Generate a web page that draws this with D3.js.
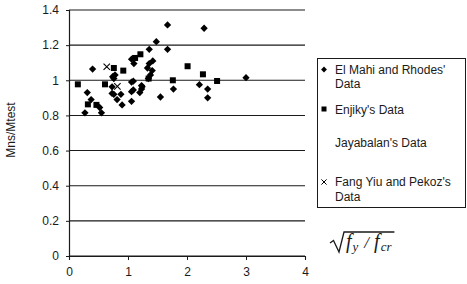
<!DOCTYPE html>
<html><head><meta charset="utf-8">
<script src="https://cdn.jsdelivr.net/npm/d3@7"></script>
<style>
html,body{margin:0;padding:0;background:#fff;}
svg{display:block;font-family:"Liberation Sans",Arial,sans-serif;}
</style></head>
<body>
<svg id="c" width="467" height="284"></svg>
<script>
// ---- data ----
const xTicks = [0, 1, 2, 3, 4];
const yTicks = [0, 0.2, 0.4, 0.6, 0.8, 1.0, 1.2, 1.4];
const yTickLabels = ["0", "0.2", "0.4", "0.6", "0.8", "1", "1.2", "1.4"];

const elMahiX = [0.40,0.31,0.375,0.52,0.55,0.27,0.73,0.76,0.74,0.78,0.76,0.815,0.88,0.90,1.06,1.06,1.09,1.06,1.23,1.23,1.20,1.345,1.38,1.41,1.33,1.36,1.42,1.06,1.10,1.48,1.36,1.67,1.67,1.55,1.77,2.21,2.35,2.35,2.29,3.00,0.73,1.09,1.24];
const elMahiY = [1.064,0.93,0.89,0.845,0.815,0.815,0.963,1.01,1.02,1.03,0.92,0.89,0.92,0.86,0.88,0.935,0.945,0.99,0.95,0.97,0.93,1.01,1.03,1.055,1.07,1.095,1.11,1.12,1.095,1.22,1.176,1.176,1.315,0.905,0.95,0.975,0.95,0.90,1.296,1.015,0.925,0.995,0.963];

const enjikyX = [0.15,0.32,0.465,0.61,0.76,0.92,1.21,1.12,1.35,1.76,2.01,2.27,2.51];
const enjikyY = [0.977,0.863,0.86,0.977,1.07,1.055,1.148,1.127,1.01,1.0,1.08,1.034,0.996];

const jayabalanX = [];
const jayabalanY = [];

const fangX = [0.64, 0.82];
const fangY = [1.077, 0.965];

const legendLabels = [["El Mahi and Rhodes'", "Data"], ["Enjiky's Data"], ["Jayabalan's Data"], ["Fang Yiu and Pekoz's", "Data"]];

// ---- chart ----
const svg = d3.select("#c");
const x = d3.scaleLinear().domain([0, 4]).range([69, 305]);
const y = d3.scaleLinear().domain([0, 1.4]).range([256, 10]);
const ink = "#1a1a1a";

// gridlines
svg.append("g").selectAll("line").data(yTicks).join("line")
  .attr("x1", x(0)).attr("x2", x(4))
  .attr("y1", d => y(d)).attr("y2", d => y(d))
  .attr("stroke", ink).attr("stroke-width", 1.1);

// y axis
const yAxis = d3.axisLeft(y).tickValues(yTicks).tickSize(3).tickPadding(7)
  .tickFormat((d, i) => yTickLabels[i]);
const gy = svg.append("g").attr("transform", `translate(${x(0)},0)`).call(yAxis);
gy.select(".domain").attr("stroke", ink).attr("stroke-width", 1.2);
gy.selectAll(".tick line").attr("stroke", ink);
gy.selectAll("text").attr("font-size", 12).attr("fill", ink)
  .attr("font-family", "'Liberation Sans',Arial,sans-serif");

// x axis
const xAxis = d3.axisBottom(x).tickValues(xTicks).tickSize(4).tickPadding(7).tickFormat(d3.format("d"));
const gx = svg.append("g").attr("transform", `translate(0,${y(0)})`).call(xAxis);
gx.select(".domain").attr("stroke", ink).attr("stroke-width", 1.1);
gx.selectAll(".tick line").attr("stroke", ink);
gx.selectAll("text").attr("font-size", 12).attr("fill", ink)
  .attr("font-family", "'Liberation Sans',Arial,sans-serif");

// y title
svg.append("text").attr("transform", "translate(15,130) rotate(-90)")
  .attr("text-anchor", "middle").attr("font-size", 12).attr("fill", ink)
  .text("Mns/Mtest");

// markers
const diamond = d3.symbol().type(d3.symbolDiamond2);
function xPath(s) { return `M${-s},${-s}L${s},${s}M${-s},${s}L${s},${-s}`; }

svg.append("g").selectAll("path").data(elMahiX.map((v, i) => [v, elMahiY[i]])).join("path")
  .attr("transform", d => `translate(${x(d[0])},${y(d[1])})`)
  .attr("d", diamond.size(34)()).attr("fill", "#000");

svg.append("g").selectAll("rect").data(enjikyX.map((v, i) => [v, enjikyY[i]])).join("rect")
  .attr("x", d => x(d[0]) - 3).attr("y", d => y(d[1]) - 3)
  .attr("width", 6).attr("height", 6).attr("fill", "#000");

svg.append("g").selectAll("path").data(fangX.map((v, i) => [v, fangY[i]])).join("path")
  .attr("transform", d => `translate(${x(d[0])},${y(d[1])})`)
  .attr("d", xPath(3.2)).attr("stroke", "#000").attr("stroke-width", 1.1).attr("fill", "none");

// legend
const lg = svg.append("g");
lg.append("rect").attr("x", 317.5).attr("y", 58.5).attr("width", 148).attr("height", 149)
  .attr("fill", "#fff").attr("stroke", ink).attr("stroke-width", 1);
const rowY = [73.5, 113.5, 146.5, 186];
legendLabels.forEach((lines, i) => {
  const t = lg.append("text").attr("x", 335).attr("y", rowY[i]).attr("font-size", 12).attr("fill", ink);
  lines.forEach((ln, j) => {
    t.append("tspan").attr("x", 335).attr("dy", j === 0 ? 0 : 14.5).text(ln);
  });
});
lg.append("path").attr("transform", "translate(324,69.5)").attr("d", diamond.size(22)()).attr("fill", "#000");
lg.append("rect").attr("x", 321.5).attr("y", 106.5).attr("width", 5).attr("height", 5).attr("fill", "#000");
lg.append("path").attr("transform", "translate(324,182)").attr("d", xPath(2.6))
  .attr("stroke", "#000").attr("stroke-width", 1).attr("fill", "none");

// x title: sqrt(f_y / f_cr)
const xt = svg.append("text").attr("x", 346).attr("y", 248)
  .attr("font-family", "'Liberation Serif','Times New Roman',serif")
  .attr("font-style", "italic").attr("font-size", 20).attr("fill", ink);
xt.append("tspan").text("f");
xt.append("tspan").attr("font-size", 13).attr("dy", 3).attr("dx", 1).text("y");
xt.append("tspan").attr("dy", -3).attr("dx", 6).attr("font-size", 17).text("/");
xt.append("tspan").attr("dx", 5).text("f");
xt.append("tspan").attr("font-size", 13).attr("dy", 3).attr("dx", 1).text("cr");
const bb = xt.node().getBBox();
const right = bb.x + bb.width + 2;
svg.append("path")
  .attr("d", `M330,243 L333.5,240.5 L339,252 L344,232 L${right},232`)
  .attr("fill", "none").attr("stroke", ink).attr("stroke-width", 1.3);
</script>
</body></html>
